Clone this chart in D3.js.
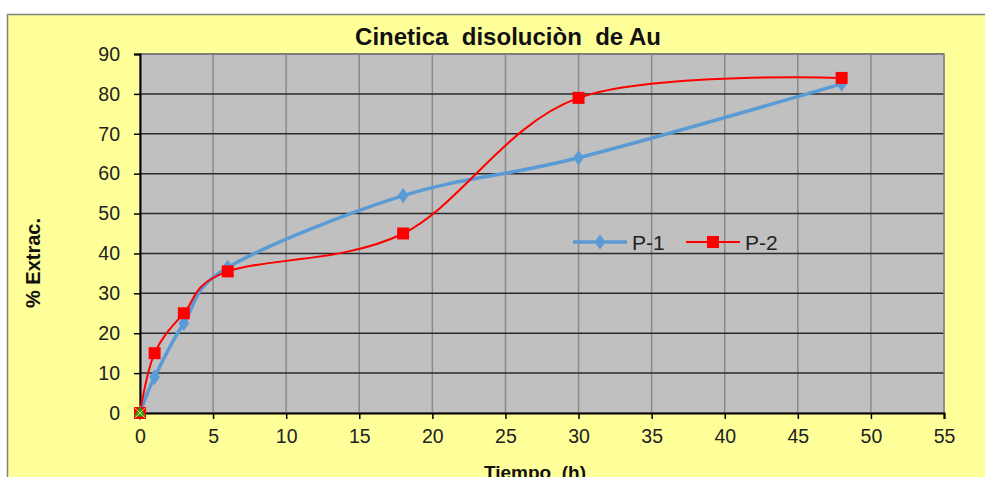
<!DOCTYPE html>
<html><head><meta charset="utf-8">
<script src="https://cdn.jsdelivr.net/npm/d3@7"></script>
<style>body{margin:0;background:#fff;} svg{display:block;font-family:"Liberation Sans",Arial,sans-serif;} text{white-space:pre;}</style>
</head><body>
<script>
const p1x = [0, 1, 3, 6, 18, 30, 48];
const p1y = [0, 9, 22.5, 36.5, 54.5, 64, 82.5];
const p2x = [0, 1, 3, 6, 18, 30, 48];
const p2y = [0, 15, 25, 35.5, 45, 79, 84];
const extraX = [0];
const extraY = [0];
const xTicks = [0,5,10,15,20,25,30,35,40,45,50,55];
const yTicks = [0,10,20,30,40,50,60,70,80,90];
const seriesNames = ["P-1","P-2"];
const title = "Cinetica  disoluciòn  de Au";
const xTitle = "Tiempo  (h)";
const yTitle = "% Extrac.";

const W = 985, H = 477;
const svg = d3.select("body").append("svg").attr("width", W).attr("height", H);
svg.append("rect").attr("x",7.5).attr("y",14.5).attr("width",1000).attr("height",500)
  .attr("fill","#FFFF99").attr("stroke","#808080").attr("stroke-width",1.5);

const L=140, R=944, T=54, B=413;
const x = d3.scaleLinear().domain([0,55]).range([L,R]);
const y = d3.scaleLinear().domain([0,90]).range([B,T]);

svg.append("rect").attr("x",L).attr("y",T).attr("width",R-L).attr("height",B-T).attr("fill","#C0C0C0");
svg.append("g").selectAll("line").data(xTicks.slice(1)).join("line")
  .attr("x1",d=>x(d)).attr("x2",d=>x(d)).attr("y1",T).attr("y2",B)
  .attr("stroke","#8a8a8a").attr("stroke-width",1.5);
svg.append("g").selectAll("line").data(yTicks.slice(1)).join("line")
  .attr("x1",L).attr("x2",R).attr("y1",d=>y(d)).attr("y2",d=>y(d))
  .attr("stroke","#2a2a2a").attr("stroke-width",1.5);
svg.append("rect").attr("x",L).attr("y",T).attr("width",R-L).attr("height",B-T)
  .attr("fill","none").attr("stroke","#8a8a8a").attr("stroke-width",1.5);

const xAxis = svg.append("g").attr("transform",`translate(0,${B})`)
  .call(d3.axisBottom(x).tickValues(xTicks).tickSize(6).tickPadding(10));
const yAxis = svg.append("g").attr("transform",`translate(${L},0)`)
  .call(d3.axisLeft(y).tickValues(yTicks).tickSize(6).tickPadding(14));
[xAxis,yAxis].forEach(a=>{
  a.select(".domain").attr("stroke","#000").attr("stroke-width",2);
  a.selectAll(".tick line").attr("stroke","#000").attr("stroke-width",1.5);
  a.selectAll("text").attr("font-size",19.5).attr("fill","#222").attr("font-family","Liberation Sans, Arial, sans-serif");
});

const line = d3.line().x(d=>x(d[0])).y(d=>y(d[1])).curve(d3.curveCatmullRom.alpha(0));
const d1 = p1x.map((v,i)=>[v,p1y[i]]);
const d2 = p2x.map((v,i)=>[v,p2y[i]]);
const c1 = "#5B9BD5", c2 = "#FF0000";

svg.append("path").attr("d",line(d1)).attr("fill","none").attr("stroke",c1).attr("stroke-width",3.5);
svg.append("path").attr("d",line(d2)).attr("fill","none").attr("stroke",c2).attr("stroke-width",2);

const diamond = d3.symbol().type(d3.symbolDiamond).size(70);
svg.append("g").selectAll("path").data(d1).join("path")
  .attr("d",diamond).attr("transform",d=>`translate(${x(d[0])},${y(d[1])}) scale(1.2,1)`).attr("fill",c1);
svg.append("g").selectAll("rect").data(d2).join("rect")
  .attr("x",d=>x(d[0])-6).attr("y",d=>y(d[1])-6).attr("width",12).attr("height",12).attr("fill",c2);
const ex = extraX.map((v,i)=>[v,extraY[i]]);
svg.append("g").selectAll("path").data(ex).join("path")
  .attr("d",d3.symbol().type(d3.symbolTriangle).size(60))
  .attr("transform",d=>`translate(${x(d[0])},${y(d[1])})`).attr("fill","#22A022");
svg.append("g").selectAll("path").data(ex).join("path")
  .attr("d",d3.symbol().type(d3.symbolX).size(70))
  .attr("transform",d=>`translate(${x(d[0])},${y(d[1])})`).attr("fill","none").attr("stroke","#F2C94C").attr("stroke-width",1);

svg.append("text").attr("x",508).attr("y",45).attr("text-anchor","middle")
  .attr("font-size",24).attr("font-weight","bold").attr("fill","#111").text(title);
svg.append("text").attr("x",535).attr("y",479).attr("text-anchor","middle")
  .attr("font-size",19).attr("font-weight","bold").attr("fill","#111").text(xTitle);
svg.append("text").attr("transform","translate(40,263) rotate(-90)").attr("text-anchor","middle")
  .attr("font-size",20).attr("font-weight","bold").attr("fill","#111").text(yTitle);

const lg = svg.append("g");
const legItems = [{name:seriesNames[0],c:c1,x0:573,w:3.5,m:"d"},{name:seriesNames[1],c:c2,x0:686,w:2,m:"s"}];
const ly = 242;
legItems.forEach(it=>{
  lg.append("line").attr("x1",it.x0).attr("x2",it.x0+54).attr("y1",ly).attr("y2",ly).attr("stroke",it.c).attr("stroke-width",it.w);
  if(it.m==="d") lg.append("path").attr("d",diamond).attr("transform",`translate(${it.x0+27},${ly}) scale(1.2,1)`).attr("fill",it.c);
  else lg.append("rect").attr("x",it.x0+21).attr("y",ly-6).attr("width",12).attr("height",12).attr("fill",it.c);
  lg.append("text").attr("x",it.x0+59).attr("y",ly+7.5).attr("font-size",21).attr("fill","#222").text(it.name);
});
</script>
</body></html>
